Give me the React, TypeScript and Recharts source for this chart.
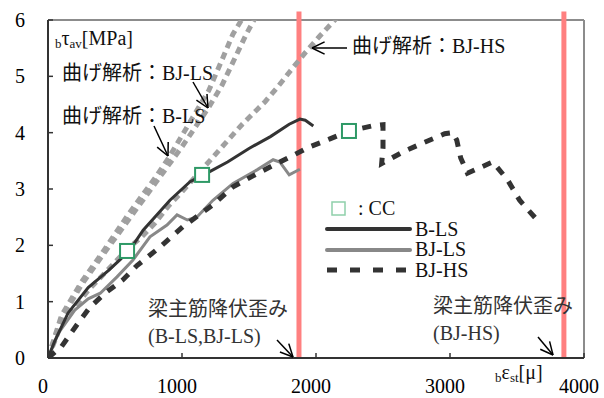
import React from "react";
import {
  ComposedChart,
  Line,
  Scatter,
  XAxis,
  YAxis,
  ReferenceLine,
} from "recharts";

const FONT = "'Liberation Serif', 'Noto Sans CJK JP', serif";

// experiment curves (strain [μ], stress [MPa])
const blsX = [0, 50, 150, 300, 450, 540, 620, 710, 910, 1060, 1200, 1340, 1500, 1660, 1800, 1880, 1920, 1980];
const blsY = [0, 0.3, 0.8, 1.25, 1.55, 1.75, 1.95, 2.27, 2.8, 3.13, 3.3, 3.48, 3.72, 3.93, 4.15, 4.24, 4.22, 4.12];

const bjlsX = [0, 80, 200, 300, 390, 515, 634, 761, 888, 963, 1040, 1110, 1231, 1381, 1560, 1680, 1730, 1800, 1880];
const bjlsY = [0, 0.45, 0.85, 1.05, 1.15, 1.44, 1.74, 2.15, 2.36, 2.54, 2.45, 2.5, 2.8, 3.1, 3.34, 3.52, 3.48, 3.25, 3.35];

const bjhsX = [0, 100, 216, 313, 425, 560, 664, 836, 1007, 1231, 1381, 1582, 1806, 1955, 2104, 2246, 2420, 2500, 2500, 2490, 2650, 2800, 2960, 3020, 3050, 3080, 3130, 3300, 3320, 3430, 3520, 3650];
const bjhsY = [0, 0.2, 0.59, 0.9, 1.15, 1.39, 1.64, 1.97, 2.33, 2.72, 3.04, 3.3, 3.57, 3.75, 3.89, 4.03, 4.12, 4.14, 3.73, 3.45, 3.66, 3.82, 3.98, 4.0, 3.87, 3.55, 3.28, 3.46, 3.48, 3.16, 2.8, 2.45];

// flexural analysis (曲げ解析)
const anaBlsX = [0, 100, 250, 400, 600, 800, 900, 1000, 1100, 1200, 1300, 1380, 1470];
const anaBlsY = [0, 0.75, 1.35, 1.85, 2.55, 3.2, 3.55, 3.95, 4.35, 4.75, 5.3, 5.75, 6.1];

const anaBjlsX = [0, 100, 250, 400, 600, 800, 1000, 1200, 1300, 1400, 1480, 1560];
const anaBjlsY = [0, 0.7, 1.3, 1.8, 2.45, 3.1, 3.75, 4.45, 4.85, 5.35, 5.75, 6.1];

const anaBjhsX = [0, 100, 300, 500, 600, 700, 800, 900, 1000, 1150, 1300, 1450, 1620, 1710, 1810, 1920, 2030, 2160];
const anaBjhsY = [0, 0.6, 1.2, 1.7, 1.95, 2.15, 2.4, 2.7, 2.95, 3.35, 3.75, 4.15, 4.55, 4.8, 5.1, 5.42, 5.72, 6.05];

// CC points
const ccX = [590, 1150, 2246];
const ccY = [1.9, 3.25, 4.03];

// beam bar yield strain
const yieldLS = 1873;
const yieldHS = 3850;

const xTicks = [0, 1000, 2000, 3000, 4000];
const yTicks = [0, 1, 2, 3, 4, 5, 6];

const zip = (xs: number[], ys: number[]) => xs.map((x, i) => ({ x, y: ys[i] }));

const XTick = (p: any) => (
  <text x={p.x - 5} y={p.y + 11} textAnchor="middle" fontSize={20} fontFamily={FONT} fill="#000">
    {p.payload.value}
  </text>
);

const YTick = (p: any) => (
  <text x={p.x} y={p.y + 7} textAnchor="end" fontSize={20} fontFamily={FONT} fill="#000">
    {p.payload.value}
  </text>
);

const CcMark = (p: any) => (
  <rect x={p.cx - 7} y={p.cy - 7} width={14} height={14} fill="#fff" stroke="#2e9966" strokeWidth={2} />
);

const Arrow = ({ x1, y1, x2, y2 }: { x1: number; y1: number; x2: number; y2: number }) => {
  const a = Math.atan2(y2 - y1, x2 - x1);
  const h = 14;
  const s = 0.45;
  return (
    <g stroke="#000" strokeWidth={1.5} fill="none">
      <line x1={x1} y1={y1} x2={x2} y2={y2} />
      <line x1={x2} y1={y2} x2={x2 - h * Math.cos(a - s)} y2={y2 - h * Math.sin(a - s)} />
      <line x1={x2} y1={y2} x2={x2 - h * Math.cos(a + s)} y2={y2 - h * Math.sin(a + s)} />
    </g>
  );
};

function Notes() {
  return (
    <svg width={604} height={398} style={{ position: "absolute", left: 0, top: 0, pointerEvents: "none" }}>
      <g fontFamily={FONT} fill="#111">
        <text x={55} y={45} fontSize={20}>
          <tspan fontSize={13} dy={3}>b</tspan>
          <tspan dy={-3}>τ</tspan>
          <tspan fontSize={13} dy={3}>av</tspan>
          <tspan dy={-3}>[MPa]</tspan>
        </text>
        <text x={62} y={80} fontSize={20}>曲げ解析：BJ-LS</text>
        <text x={62} y={123} fontSize={20}>曲げ解析：B-LS</text>
        <text x={352} y={53} fontSize={20}>曲げ解析：BJ-HS</text>

        <text x={148} y={316} fontSize={20} fill="#333">梁主筋降伏歪み</text>
        <text x={148} y={343} fontSize={20} fill="#333">(B-LS,BJ-LS)</text>
        <text x={433} y={313} fontSize={20} fill="#333">梁主筋降伏歪み</text>
        <text x={433} y={340} fontSize={20} fill="#333">(BJ-HS)</text>

        <text x={495} y={379} fontSize={20}>
          <tspan fontSize={13} dy={3}>b</tspan>
          <tspan dy={-3}>ε</tspan>
          <tspan fontSize={13} dy={3}>st</tspan>
          <tspan dy={-3}>[μ]</tspan>
        </text>

        <rect x={332} y={202} width={13} height={13} fill="#fff" stroke="#8fd0aa" strokeWidth={1.5} />
        <text x={358} y={215} fontSize={20}>: CC</text>
        <line x1={327} y1={229} x2={410} y2={229} stroke="#333" strokeWidth={4} strokeLinecap="round" />
        <text x={415} y={236} fontSize={20}>B-LS</text>
        <line x1={327} y1={250} x2={410} y2={250} stroke="#888" strokeWidth={4} strokeLinecap="round" />
        <text x={415} y={256} fontSize={20}>BJ-LS</text>
        <line x1={327} y1={270} x2={410} y2={270} stroke="#333" strokeWidth={5} strokeDasharray="10 13" />
        <text x={415} y={277} fontSize={20}>BJ-HS</text>
      </g>
      <Arrow x1={193} y1={82} x2={208} y2={108} />
      <Arrow x1={154} y1={126} x2={168} y2={156} />
      <Arrow x1={347} y1={48} x2={312} y2={48} />
      <Arrow x1={277} y1={340} x2={293} y2={357} />
      <Arrow x1={538} y1={337} x2={553} y2={355} />
    </svg>
  );
}

export default function App() {
  return (
    <div style={{ position: "absolute", left: 0, top: 0, width: 604, height: 398, background: "#fff" }}>
      <ComposedChart width={604} height={398} margin={{ top: 20, right: 20, left: 0, bottom: 0 }}>
        <XAxis
          type="number"
          dataKey="x"
          domain={[0, 4000]}
          ticks={xTicks}
          interval={0}
          allowDataOverflow
          height={40}
          tickSize={-5}
          tickMargin={29}
          axisLine={{ stroke: "#333", strokeWidth: 2 }}
          tickLine={{ stroke: "#333", strokeWidth: 1.5 }}
          tick={XTick}
        />
        <YAxis
          type="number"
          dataKey="y"
          domain={[0, 6]}
          ticks={yTicks}
          interval={0}
          allowDataOverflow
          width={48}
          tickSize={-5}
          tickMargin={28}
          axisLine={{ stroke: "#333", strokeWidth: 2 }}
          tickLine={{ stroke: "#333", strokeWidth: 1.5 }}
          tick={YTick}
        />
        <ReferenceLine y={6} stroke="#8c8c8c" strokeWidth={2} />
        <ReferenceLine x={4000} stroke="#8c8c8c" strokeWidth={2} />
        <ReferenceLine
          segment={[{ x: yieldLS, y: 0 }, { x: yieldLS, y: 6.15 }]}
          ifOverflow="visible"
          stroke="#ff8080"
          strokeWidth={5}
        />
        <ReferenceLine
          segment={[{ x: yieldHS, y: 0 }, { x: yieldHS, y: 6.15 }]}
          ifOverflow="visible"
          stroke="#ff8080"
          strokeWidth={5}
        />
        <Line data={zip(anaBlsX, anaBlsY)} dataKey="y" stroke="#a0a0a0" strokeWidth={5} strokeDasharray="7 5" dot={false} isAnimationActive={false} />
        <Line data={zip(anaBjlsX, anaBjlsY)} dataKey="y" stroke="#a0a0a0" strokeWidth={5} strokeDasharray="7 5" dot={false} isAnimationActive={false} />
        <Line data={zip(anaBjhsX, anaBjhsY)} dataKey="y" stroke="#a0a0a0" strokeWidth={5} strokeDasharray="7 5" dot={false} isAnimationActive={false} />
        <Line data={zip(bjlsX, bjlsY)} dataKey="y" stroke="#888" strokeWidth={3} dot={false} isAnimationActive={false} />
        <Line data={zip(bjhsX, bjhsY)} dataKey="y" stroke="#333" strokeWidth={5} strokeDasharray="9 9" dot={false} isAnimationActive={false} />
        <Line data={zip(blsX, blsY)} dataKey="y" stroke="#333" strokeWidth={3} dot={false} isAnimationActive={false} />
        <Scatter data={zip(ccX, ccY)} dataKey="y" shape={CcMark} isAnimationActive={false} />
      </ComposedChart>
      <Notes />
    </div>
  );
}
